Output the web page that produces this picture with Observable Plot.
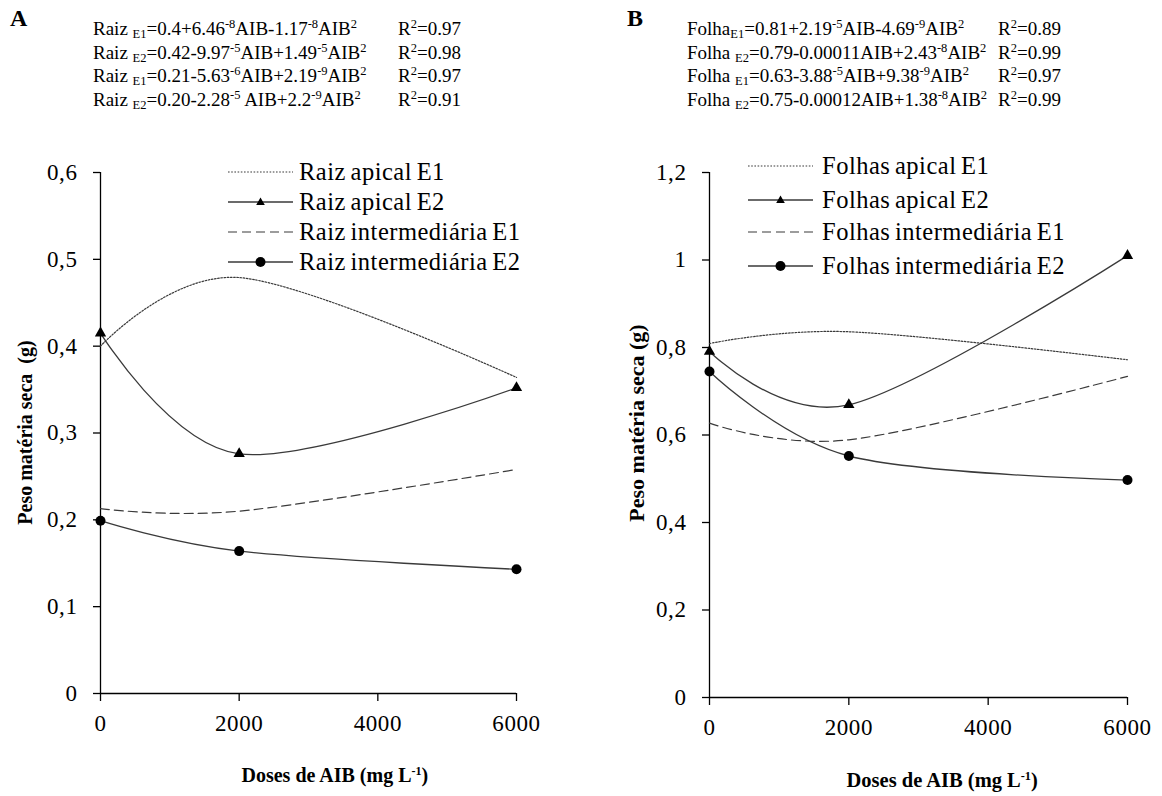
<!DOCTYPE html>
<html>
<head>
<meta charset="utf-8">
<script src="https://cdn.jsdelivr.net/npm/d3@7"></script>
<script src="https://cdn.jsdelivr.net/npm/@observablehq/plot@0.6"></script>
<style>
  html, body { margin: 0; padding: 0; background: #fff; }
  #page { position: relative; width: 1162px; height: 796px; overflow: hidden; font-family: "Liberation Serif", "Times New Roman", serif; color: #000; }
  .abs { position: absolute; }
  .panelLetter { font-weight: bold; font-size: 24px; }
  .eq { font-size: 19px; line-height: 23.5px; white-space: nowrap; }
  .eq sub { font-size: 12.5px; vertical-align: -3px; line-height: 0; }
  .eq sup { font-size: 12.5px; vertical-align: 7px; line-height: 0; }
  .legend { white-space: nowrap; word-spacing: -2px; letter-spacing: 0.5px; }
  .legend .row { position: absolute; display: flex; align-items: center; height: 24px; }
  .legend svg { display: block; }
  .ytitle { font-weight: bold; white-space: nowrap; transform-origin: center center; }
  .xtitle { font-weight: bold; white-space: nowrap; }
  .xtitle sup { font-size: 0.6em; vertical-align: 0.55em; line-height: 0; }
</style>
</head>
<body>
<div id="page"></div>
<script>
// ---------------- data ----------------
const doses = [0, 2000, 6000];
const xTicks = [0, 2000, 4000, 6000];

const yTicksA = [0, 0.1, 0.2, 0.3, 0.4, 0.5, 0.6];
const yTicksB = [0, 0.2, 0.4, 0.6, 0.8, 1.0, 1.2];

const namesA = ["Raiz apical E1", "Raiz apical E2", "Raiz intermediária E1", "Raiz intermediária E2"];
const namesB = ["Folhas apical E1", "Folhas apical E2", "Folhas intermediária E1", "Folhas intermediária E2"];

const raizApicalE1 = [0.400, 0.479, 0.364];
const raizApicalE2 = [0.415, 0.276, 0.352];
const raizIntermE1 = [0.213, 0.210, 0.258];
const raizIntermE2 = [0.199, 0.164, 0.143];

const folhasApicalE1 = [0.809, 0.836, 0.772];
const folhasApicalE2 = [0.791, 0.669, 1.010];
const folhasIntermE1 = [0.627, 0.589, 0.734];
const folhasIntermE2 = [0.745, 0.552, 0.497];

const eqA = [
  "Raiz <sub>E1</sub>=0.4+6.46<sup>-8</sup>AIB-1.17<sup>-8</sup>AIB<sup>2</sup>",
  "Raiz <sub>E2</sub>=0.42-9.97<sup>-5</sup>AIB+1.49<sup>-5</sup>AIB<sup>2</sup>",
  "Raiz <sub>E1</sub>=0.21-5.63<sup>-6</sup>AIB+2.19<sup>-9</sup>AIB<sup>2</sup>",
  "Raiz <sub>E2</sub>=0.20-2.28<sup>-5</sup> AIB+2.2<sup>-9</sup>AIB<sup>2</sup>"
];
const r2A = ["0.97", "0.98", "0.97", "0.91"];
const eqB = [
  "Folha<sub>E1</sub>=0.81+2.19<sup>-5</sup>AIB-4.69<sup>-9</sup>AIB<sup>2</sup>",
  "Folha <sub>E2</sub>=0.79-0.00011AIB+2.43<sup>-8</sup>AIB<sup>2</sup>",
  "Folha <sub>E1</sub>=0.63-3.88<sup>-5</sup>AIB+9.38<sup>-9</sup>AIB<sup>2</sup>",
  "Folha <sub>E2</sub>=0.75-0.00012AIB+1.38<sup>-8</sup>AIB<sup>2</sup>"
];
const r2B = ["0.89", "0.99", "0.97", "0.99"];

// ---------------- styles ----------------
const seriesStyles = [
  {dash: "1.6,1.6", width: 1.2, symbol: null},
  {dash: null, width: 1.3, symbol: "triangle"},
  {dash: "9,5", width: 1.2, symbol: null},
  {dash: null, width: 1.3, symbol: "circle"}
];
const lineColor = "#3a3a3a";
const FONT = '"Liberation Serif", "Times New Roman", serif';
const commaFmt = d => String(d).replace(".", ",");

const page = document.getElementById("page");

function makePanel(cfg) {
  const marks = [];
  cfg.series.forEach((vals, k) => {
    const rows = doses.map((x, i) => ({x, y: vals[i], name: cfg.names[k]}));
    const st = seriesStyles[k];
    marks.push(Plot.line(rows, {
      x: "x", y: "y", curve: "cardinal", stroke: lineColor,
      strokeWidth: st.width, strokeDasharray: st.dash || undefined
    }));
    if (st.symbol) {
      marks.push(Plot.dot(rows, {
        x: "x", y: "y", symbol: st.symbol, r: st.symbol === "triangle" ? 4.2 : 5,
        fill: "#000", stroke: "none"
      }));
    }
  });
  const axisFont = {fontSize: 23, fontFamily: FONT};
  const chart = Plot.plot({
    width: cfg.width, height: cfg.height,
    marginLeft: cfg.ml, marginRight: cfg.mr, marginTop: cfg.mt, marginBottom: cfg.mb,
    style: {fontFamily: FONT, fontSize: "23px", color: "#000", background: "transparent", overflow: "visible", letterSpacing: "0.6px"},
    x: {domain: [0, 6000]},
    y: {domain: cfg.yDomain},
    marks: [
      Plot.ruleX([0], {stroke: "#000", strokeWidth: 1.3}),
      Plot.ruleY([0], {stroke: "#000", strokeWidth: 1.3}),
      Plot.axisX({ticks: xTicks, tickSize: 8, tickPadding: 13, tickFormat: d => String(d), label: null, strokeWidth: 1.3, ...axisFont}),
      Plot.axisY({ticks: cfg.yTicks, tickSize: 7, tickPadding: 16, tickFormat: commaFmt, label: null, strokeWidth: 1.3, ...axisFont}),
      ...marks
    ]
  });
  chart.style.position = "absolute";
  chart.style.left = cfg.left + "px";
  chart.style.top = cfg.top + "px";
  page.appendChild(chart);

  // panel letter
  const letter = document.createElement("div");
  letter.className = "abs panelLetter";
  letter.style.left = cfg.letterX + "px";
  letter.style.top = "5px";
  letter.textContent = cfg.letter;
  page.appendChild(letter);

  // equations
  cfg.eqs.forEach((eq, i) => {
    const d = document.createElement("div");
    d.className = "abs eq";
    d.style.left = cfg.eqX + "px";
    d.style.top = (17 + i * 23.5) + "px";
    d.innerHTML = eq;
    page.appendChild(d);
    const r = document.createElement("div");
    r.className = "abs eq";
    r.style.left = cfg.r2X + "px";
    r.style.top = (17 + i * 23.5) + "px";
    r.innerHTML = "R<sup>2</sup>=" + cfg.r2[i];
    page.appendChild(r);
  });

  // legend
  const leg = document.createElement("div");
  leg.className = "abs legend";
  leg.style.left = "0px"; leg.style.top = "0px";
  leg.style.fontSize = cfg.legSize + "px";
  cfg.names.forEach((name, k) => {
    const st = seriesStyles[k];
    const row = document.createElement("div");
    row.className = "row";
    row.style.left = cfg.legX + "px";
    row.style.top = (cfg.legY[k] - 12) + "px";
    const sw = 65;
    let svg = `<svg width="${sw}" height="14" viewBox="0 0 ${sw} 14"><line x1="0" y1="7" x2="${sw}" y2="7" stroke="${lineColor}" stroke-width="${st.width}" ${st.dash ? `stroke-dasharray="${st.dash}"` : ""}/>`;
    if (st.symbol === "triangle") svg += `<path d="M${sw/2},2.5 L${sw/2+4.3},10 L${sw/2-4.3},10 Z" fill="#000"/>`;
    if (st.symbol === "circle") svg += `<circle cx="${sw/2}" cy="7" r="5" fill="#000"/>`;
    svg += `</svg>`;
    row.innerHTML = svg + `<span style="margin-left:${cfg.legGap}px">${name}</span>`;
    leg.appendChild(row);
  });
  page.appendChild(leg);

  // y title
  const yt = document.createElement("div");
  yt.className = "abs ytitle";
  yt.style.fontSize = cfg.yTitleSize + "px";
  yt.textContent = cfg.yTitle;
  page.appendChild(yt);
  const w = yt.offsetWidth, h = yt.offsetHeight;
  yt.style.left = (cfg.yTitleC[0] - w / 2) + "px";
  yt.style.top = (cfg.yTitleC[1] - h / 2) + "px";
  yt.style.transform = "rotate(-90deg)";

  // x title
  const xt = document.createElement("div");
  xt.className = "abs xtitle";
  xt.style.fontSize = cfg.xTitleSize + "px";
  xt.innerHTML = "Doses de AIB (mg L<sup>-1</sup>)";
  page.appendChild(xt);
  const xw = xt.offsetWidth, xh = xt.offsetHeight;
  xt.style.left = (cfg.xTitleC[0] - xw / 2) + "px";
  xt.style.top = (cfg.xTitleC[1] - xh / 2) + "px";
}

makePanel({
  letter: "A", letterX: 10,
  series: [raizApicalE1, raizApicalE2, raizIntermE1, raizIntermE2],
  names: namesA, yDomain: [0, 0.6], yTicks: yTicksA,
  left: 0, top: 150, width: 560, height: 600, ml: 100, mr: 44, mt: 22, mb: 57,
  eqs: eqA, r2: r2A, eqX: 93, r2X: 398,
  legX: 228, legY: [172, 202, 232, 262], legGap: 6, legSize: 24.5,
  yTitle: "Peso matéria seca\u00a0\u00a0(g)", yTitleSize: 20, yTitleC: [25, 432],
  xTitleSize: 20, xTitleC: [335, 775]
});

makePanel({
  letter: "B", letterX: 627,
  series: [folhasApicalE1, folhasApicalE2, folhasIntermE1, folhasIntermE2],
  names: namesB, yDomain: [0, 1.2], yTicks: yTicksB,
  left: 600, top: 150, width: 562, height: 600, ml: 109, mr: 35, mt: 22, mb: 53,
  eqs: eqB, r2: r2B, eqX: 687, r2X: 998,
  legX: 748, legY: [166, 200, 232, 266], legGap: 9, legSize: 24.5,
  yTitle: "Peso matéria seca (g)", yTitleSize: 22, yTitleC: [636, 423],
  xTitleSize: 20.5, xTitleC: [942, 780]
});
</script>
</body>
</html>
